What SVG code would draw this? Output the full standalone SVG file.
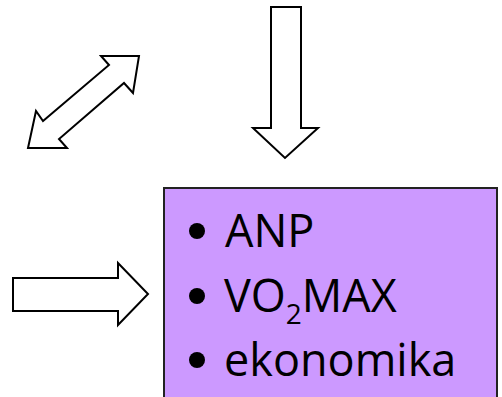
<svg xmlns="http://www.w3.org/2000/svg" width="502" height="397" viewBox="0 0 502 397">
<style>
.arrow{fill:#fff;stroke:#000;stroke-width:2;stroke-linejoin:miter}
.box{fill:#cc99ff;stroke:#222;stroke-width:2}
.t{font-family:"Open Sans","Noto Sans",sans-serif;font-size:45px;fill:#000}
.sub{font-size:28px}
.bullet{fill:#000}
</style>
<rect width="502" height="397" fill="#fff"/>
<g id="connectors">
<polygon class="arrow" points="139,56 101,56 109,65 43,121 36,111 28,148 67,148 59,139 124,83 133,93"/>
<polygon class="arrow" points="271,7 301,7 301,128 318,128 285,158 253,128 271,128"/>
<polygon class="arrow" points="13,278 118,278 118,263 148,294 118,325 118,311 13,311"/>
</g>
<g id="box">
<rect class="box" x="164" y="188" width="333" height="220"/>
<circle class="bullet" cx="197" cy="231" r="8"/>
<circle class="bullet" cx="197" cy="296" r="8"/>
<circle class="bullet" cx="197" cy="360" r="8"/>
<text class="t" x="225" y="247">ANP</text>
<text class="t" x="224" y="312">VO<tspan class="sub" dy="12">2</tspan><tspan dy="-12">MAX</tspan></text>
<text class="t" x="224" y="376">ekonomika</text>
</g>
</svg>
